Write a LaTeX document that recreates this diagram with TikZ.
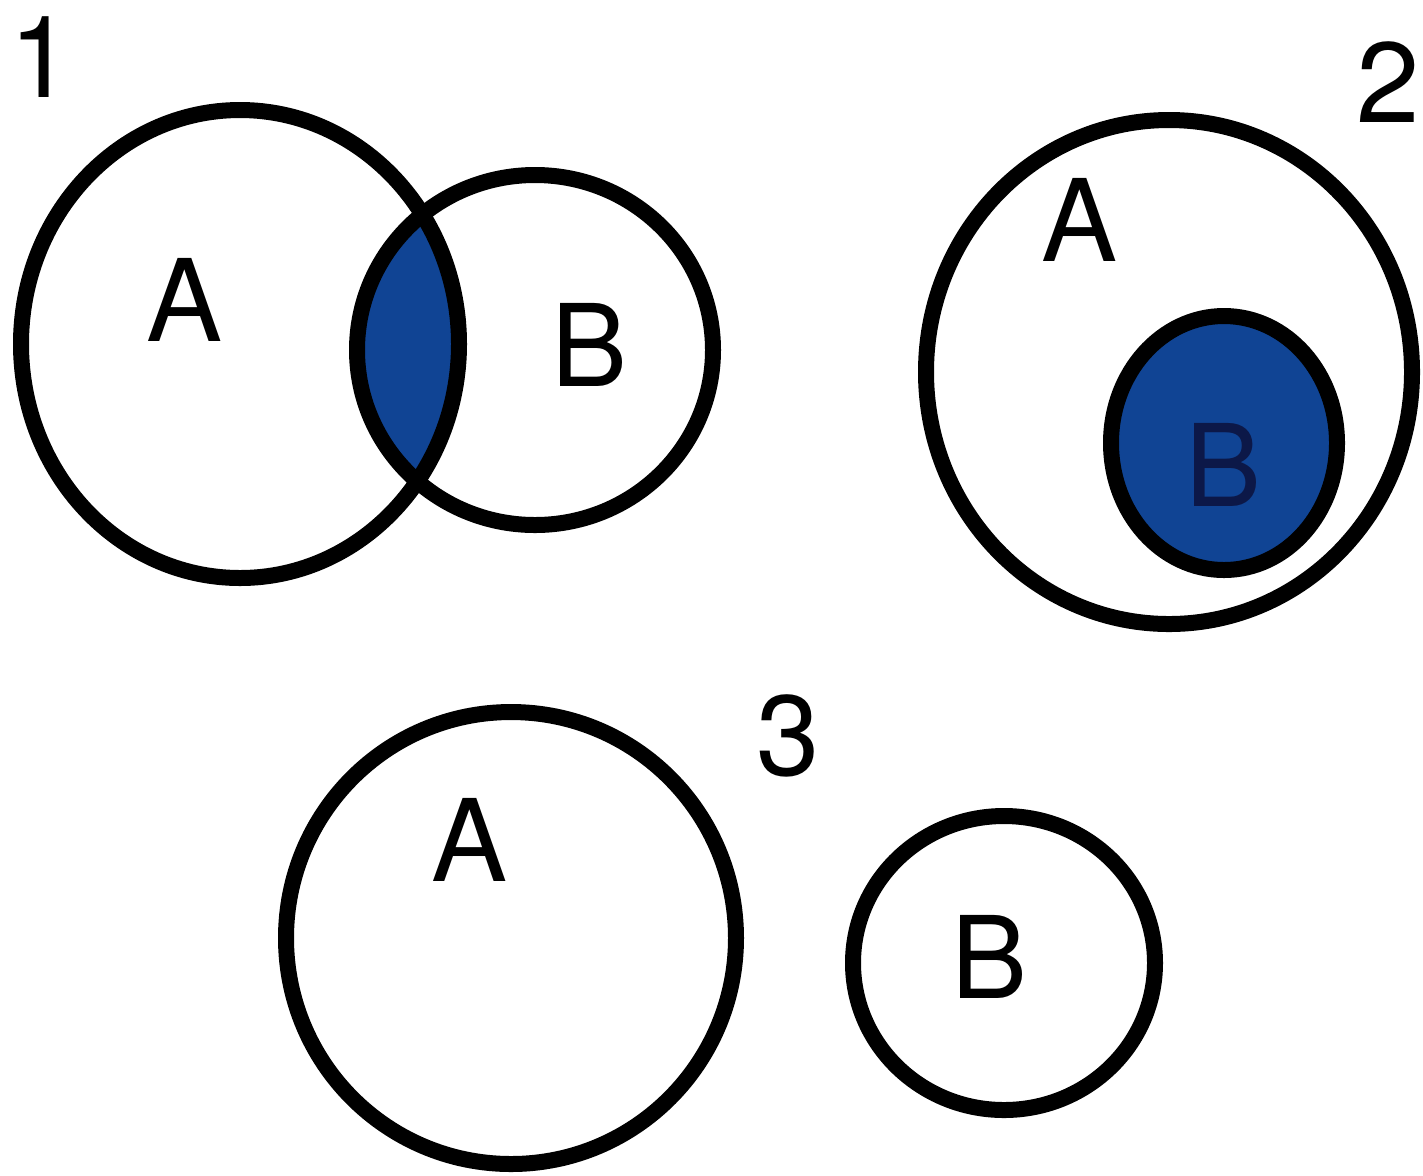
\documentclass[tikz,border=0pt]{standalone}
\usepackage{fontspec}
\setmainfont{TeX Gyre Heros}
\definecolor{setblue}{RGB}{16,68,148}
\definecolor{darktext}{RGB}{12,24,72}
\begin{document}
\begin{tikzpicture}[x=0.5pt,y=-0.5pt,
  setline/.style={line width=8pt,draw=black},
  lbl/.style={inner sep=0pt,anchor=center,font=\fontsize{57}{60}\selectfont}]
\useasboundingbox (0,0) rectangle (1423,1175);
% centres
\coordinate (cA1) at (240,344);
\coordinate (cB1) at (535,350);
\coordinate (cA2) at (1169,372);
\coordinate (cB2) at (1224,443);
\coordinate (cA3) at (511,938);
\coordinate (cB3) at (1004,963);
% diagram 1: intersection
\begin{scope}
  \clip (cA1) ellipse [x radius=219, y radius=234];
  \fill[setblue] (cB1) ellipse [x radius=178, y radius=175];
\end{scope}
\draw[setline] (cA1) ellipse [x radius=219, y radius=234];
\draw[setline] (cB1) ellipse [x radius=178, y radius=175];
\node[lbl] (n1) at (41,57) {1};
\node[lbl] (a1) at (185,300) {A};
\node[lbl] (b1) at (590,345) {B};
% diagram 2
\draw[setline] (cA2) ellipse [x radius=243, y radius=252];
\draw[setline,fill=setblue] (cB2) ellipse [x radius=113, y radius=127];
\node[lbl] (n2) at (1388,82) {2};
\node[lbl] (a2) at (1080,220) {A};
\node[lbl,text=darktext] (b2) at (1223,465) {B};
% diagram 3
\draw[setline] (cA3) ellipse [x radius=225, y radius=226];
\draw[setline] (cB3) ellipse [x radius=151, y radius=147];
\node[lbl] (n3) at (788,736) {3};
\node[lbl] (a3) at (470,840) {A};
\node[lbl] (b3) at (990,957) {B};
\end{tikzpicture}
\end{document}
